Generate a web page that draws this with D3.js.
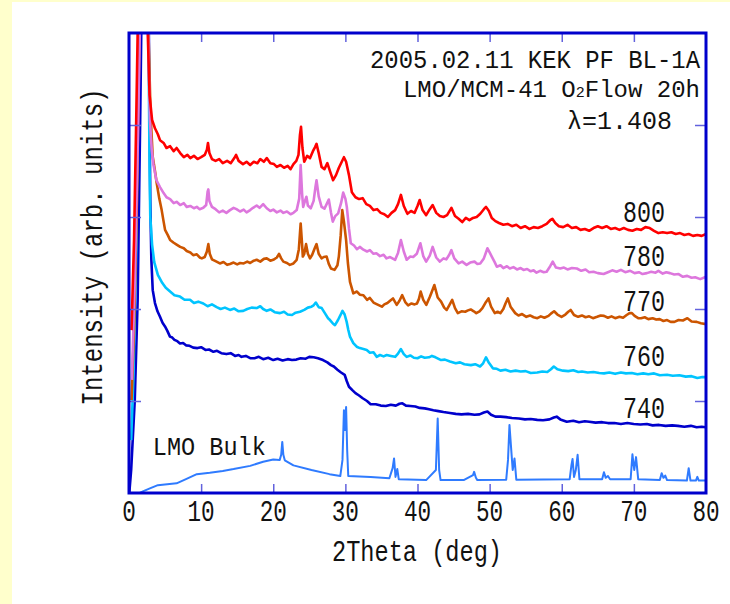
<!DOCTYPE html>
<html>
<head>
<meta charset="utf-8">
<script src="https://cdn.jsdelivr.net/npm/d3@7"></script>
<style>
  body { margin: 0; background: #ffffcc; }
  text { font-family: "Liberation Mono", "DejaVu Sans Mono", monospace; fill: #111; }
</style>
</head>
<body>
<div id="chart"></div>
<script>
var svgWidth = 730;
var svgHeight = 604;

var margin = { top: 33, right: 24, bottom: 111, left: 129 };
var width = svgWidth - margin.left - margin.right;
var height = svgHeight - margin.top - margin.bottom;

// tick values and labels
var xTickValues = [10, 20, 30, 40, 50, 60, 70];
var xTickLabels = [0, 10, 20, 30, 40, 50, 60, 70, 80];
var yTickValues = [20, 40, 60, 80];

// series names (annealing temperature) and their label baselines (data units)
var seriesNames = ["800", "780", "770", "760", "740"];
var seriesColors = ["#ff0000", "#dd77dd", "#cc5500", "#00c4ff", "#0000cc"];
var labelLevels = [59.0, 49.3, 39.5, 27.6, 16.3];

// 2theta (deg), intensity (arb.)
var s800 = [[0.35,35.4],[0.7,55.0],[1.0,81.1],[1.2,100],[1.35,120],[2.45,120],[2.6,100],[2.85,86.5],[3.2,81.1],[3.6,79.3],[4.0,78.0],[4.3,76.7],[4.8,76.1],[5.2,75.0],[5.7,75.4],[6.2,74.3],[6.6,75.0],[7.1,73.9],[7.6,73.0],[8.1,73.5],[8.5,72.8],[9.0,73.3],[9.5,72.6],[10.0,73.0],[10.5,73.5],[10.8,74.6],[10.95,76.1],[11.15,73.9],[11.5,72.6],[12.0,72.2],[12.5,72.6],[13.0,71.7],[13.6,72.2],[14.1,71.7],[14.6,72.8],[14.85,73.5],[15.2,72.2],[15.8,71.5],[16.3,72.0],[16.8,71.3],[17.3,72.0],[17.8,71.7],[18.2,72.6],[18.7,72.0],[19.1,72.8],[19.6,71.7],[20.1,71.5],[20.5,70.9],[21.0,71.3],[21.5,70.7],[22.0,71.1],[22.4,70.4],[22.8,71.5],[23.2,72.2],[23.5,73.5],[23.7,77.8],[23.85,79.6],[24.05,75.0],[24.3,72.0],[24.7,73.3],[25.1,72.8],[25.5,74.3],[25.8,75.2],[26.0,75.9],[26.3,73.9],[26.7,70.9],[27.1,70.4],[27.5,71.7],[27.9,69.8],[28.3,68.0],[28.7,69.1],[29.1,70.7],[29.5,72.0],[29.8,73.0],[30.1,72.0],[30.5,69.1],[30.9,65.4],[31.4,64.3],[31.9,63.9],[32.4,64.1],[32.9,62.8],[33.4,62.4],[33.9,61.5],[34.4,61.7],[34.9,60.9],[35.4,60.6],[35.9,60.0],[36.4,60.9],[36.9,61.5],[37.3,62.8],[37.7,64.8],[38.1,62.4],[38.6,60.7],[39.1,61.3],[39.6,60.9],[40.0,62.4],[40.3,63.7],[40.7,61.5],[41.2,60.4],[41.7,61.7],[42.1,62.6],[42.6,60.9],[43.1,60.2],[43.6,60.0],[44.1,60.4],[44.7,62.0],[45.2,60.2],[45.7,59.6],[46.2,58.9],[46.7,59.8],[47.2,59.3],[47.7,59.8],[48.2,60.0],[48.7,60.7],[49.2,61.7],[49.5,62.2],[49.9,61.3],[50.3,59.8],[50.8,59.1],[51.3,58.7],[51.9,58.3],[52.5,58.5],[53.1,58.0],[53.7,58.3],[54.3,57.6],[54.9,58.0],[55.5,57.4],[56.1,57.8],[56.7,57.6],[57.3,58.0],[57.9,58.5],[58.4,59.3],[58.7,59.6],[59.1,58.7],[59.6,58.0],[60.2,57.8],[60.8,58.3],[61.4,57.6],[62.0,57.8],[62.6,57.2],[63.2,57.4],[63.8,57.0],[64.4,57.6],[65.0,58.0],[65.6,57.6],[66.2,58.0],[66.8,57.4],[67.4,57.6],[68.0,57.2],[68.6,57.6],[69.2,57.2],[69.8,57.0],[70.4,57.4],[71.0,57.2],[71.6,57.8],[72.2,57.6],[72.8,57.0],[73.4,56.5],[74.0,56.7],[74.6,56.5],[75.2,56.7],[75.8,56.3],[76.4,56.5],[77.0,56.1],[77.6,56.3],[78.2,55.9],[78.8,56.1],[79.4,55.9],[80.0,56.3]];

var s780 = [[0.4,24.6],[0.8,46.3],[1.2,74.6],[1.5,100],[1.6,120],[2.45,120],[2.65,100],[2.9,81.1],[3.15,74.6],[3.4,71.3],[3.8,68.0],[4.3,66.5],[4.8,65.2],[5.2,64.3],[5.7,63.9],[6.2,63.0],[6.6,63.3],[7.1,62.6],[7.6,63.0],[8.0,62.2],[8.5,62.4],[9.0,61.9],[9.4,62.2],[9.8,61.7],[10.3,62.0],[10.7,62.6],[10.9,65.5],[11.0,66.0],[11.15,63.5],[11.5,62.2],[12.0,61.7],[12.5,61.0],[13.0,61.4],[13.5,60.9],[14.0,61.5],[14.5,62.0],[14.9,61.7],[15.4,61.2],[15.9,61.6],[16.3,61.0],[16.8,61.5],[17.2,62.0],[17.7,62.5],[18.1,62.0],[18.6,62.8],[19.1,61.9],[19.6,61.3],[20.0,61.6],[20.5,61.0],[21.0,61.4],[21.4,60.9],[21.9,61.2],[22.4,60.6],[22.8,60.9],[23.25,61.5],[23.6,64.0],[23.8,71.3],[24.0,65.0],[24.15,62.2],[24.4,63.5],[24.6,64.4],[24.8,62.5],[25.2,61.9],[25.6,63.5],[25.85,66.5],[26.0,68.0],[26.3,64.5],[26.7,62.2],[27.1,61.8],[27.4,62.8],[27.7,63.8],[28.0,61.0],[28.25,59.0],[28.6,60.2],[29.0,60.8],[29.4,63.0],[29.7,65.3],[30.0,64.0],[30.2,62.2],[30.5,57.5],[30.75,54.3],[31.2,53.8],[31.6,53.0],[32.0,53.5],[32.5,52.9],[33.0,52.5],[33.4,52.8],[33.9,52.0],[34.3,52.1],[34.8,51.5],[35.3,51.8],[35.7,51.0],[36.2,51.3],[36.9,50.7],[37.3,52.2],[37.7,55.0],[38.1,52.5],[38.5,50.7],[39.0,51.4],[39.4,51.3],[39.9,52.0],[40.4,54.3],[40.8,51.5],[41.2,50.3],[41.7,51.6],[42.1,53.5],[42.6,51.2],[43.1,50.3],[43.6,51.0],[44.0,50.8],[44.4,51.8],[44.7,52.8],[45.1,51.0],[45.7,49.9],[46.2,50.3],[46.8,49.6],[47.3,50.1],[47.9,50.3],[48.3,49.8],[48.7,49.9],[49.2,51.0],[49.7,53.2],[50.0,52.3],[50.3,51.4],[50.7,50.2],[51.0,49.2],[51.5,49.5],[51.9,48.9],[52.4,49.3],[52.8,48.8],[53.3,49.1],[53.8,48.6],[54.3,48.9],[54.7,48.5],[55.2,48.7],[55.7,48.2],[56.1,48.4],[56.5,47.9],[57.0,48.3],[57.5,48.0],[57.9,48.1],[58.4,49.3],[58.75,50.3],[59.2,49.0],[59.8,48.8],[60.3,49.0],[60.8,48.6],[61.4,48.9],[62.1,48.8],[62.7,48.3],[63.3,48.6],[63.8,48.0],[64.4,48.1],[65.0,47.8],[65.8,47.6],[66.4,48.0],[67.0,48.4],[67.6,48.1],[68.2,48.5],[68.8,48.0],[69.5,48.3],[70.1,47.8],[70.7,48.0],[71.2,47.6],[71.8,47.8],[72.4,48.1],[73.0,47.9],[73.4,48.3],[74.0,47.7],[74.5,48.0],[75.0,47.8],[75.6,47.5],[76.2,47.6],[76.8,47.0],[77.4,47.2],[78.0,46.8],[78.5,46.9],[79.2,46.5],[80.0,47.0]];

var s770 = [[0.35,20.2],[0.7,35.4],[1.1,63.7],[1.45,100],[1.55,120],[2.5,120],[2.7,100],[3.0,82.0],[3.29,73.1],[3.6,70.0],[3.84,67.4],[4.2,64.0],[4.53,61.5],[4.8,59.0],[5.0,57.2],[5.4,56.0],[5.7,55.0],[6.2,54.4],[6.6,54.0],[7.1,53.5],[7.6,53.2],[8.0,52.6],[8.5,52.3],[8.9,51.7],[9.4,51.9],[9.8,51.2],[10.1,51.0],[10.5,51.3],[10.8,52.5],[11.0,54.1],[11.2,52.0],[11.5,50.8],[12.0,50.4],[12.6,49.9],[13.1,50.2],[13.6,49.6],[14.0,49.8],[14.5,50.1],[15.0,49.7],[15.4,50.0],[15.9,49.9],[16.4,50.3],[16.8,50.0],[17.3,50.5],[17.7,50.7],[18.2,50.3],[18.7,50.9],[19.1,51.0],[19.6,50.5],[20.0,50.7],[20.5,51.2],[20.8,52.0],[21.1,51.0],[21.4,50.3],[21.9,50.0],[22.3,49.6],[22.8,49.9],[23.25,50.7],[23.55,53.0],[23.8,58.6],[24.0,54.0],[24.1,51.4],[24.3,52.0],[24.55,54.1],[24.8,52.0],[25.1,51.0],[25.4,51.8],[25.75,53.2],[26.0,54.1],[26.3,52.0],[26.7,51.0],[27.0,51.3],[27.4,51.4],[27.7,49.8],[28.0,48.8],[28.5,48.5],[28.9,49.5],[29.1,51.5],[29.35,56.0],[29.57,61.5],[29.8,59.0],[30.1,55.0],[30.35,50.0],[30.64,45.9],[31.1,43.4],[31.6,43.8],[32.0,43.1],[32.5,43.0],[33.0,42.0],[33.4,42.4],[33.9,41.4],[34.4,41.0],[35.06,40.5],[35.4,41.0],[35.83,41.3],[36.2,41.8],[36.6,42.3],[36.9,41.5],[37.12,40.9],[37.5,41.8],[37.88,43.0],[38.3,41.5],[38.7,40.8],[39.17,41.2],[39.6,41.0],[39.93,41.2],[40.2,42.2],[40.44,43.8],[40.8,42.0],[41.22,40.9],[41.73,42.7],[42.0,43.8],[42.34,45.2],[42.8,42.5],[43.27,41.6],[43.7,40.3],[44.05,39.8],[44.4,40.8],[44.81,42.0],[45.2,40.2],[45.59,39.1],[46.1,39.5],[46.61,39.4],[47.0,39.7],[47.38,39.9],[47.8,39.5],[48.15,39.1],[48.6,39.5],[49.0,40.2],[49.4,41.3],[49.84,42.3],[50.2,40.5],[50.72,39.1],[51.1,39.4],[51.49,39.1],[51.9,40.0],[52.2,41.2],[52.52,42.3],[52.9,40.5],[53.55,39.1],[54.0,38.6],[54.5,38.9],[55.09,38.3],[55.6,38.6],[56.1,38.2],[56.62,38.0],[57.1,38.4],[57.6,38.1],[58.16,38.5],[58.5,39.0],[58.94,39.5],[59.4,38.8],[59.97,38.3],[60.5,38.8],[60.9,39.4],[61.24,39.8],[61.7,38.7],[62.27,38.3],[62.8,38.6],[63.3,38.2],[63.8,38.4],[64.33,38.0],[64.9,38.3],[65.4,38.6],[65.86,38.5],[66.4,38.1],[66.9,38.4],[67.41,38.0],[68.0,38.3],[68.5,38.1],[69.0,38.7],[69.4,39.1],[69.73,39.1],[70.1,38.5],[70.6,38.0],[71.0,38.0],[71.5,38.2],[72.0,37.8],[72.6,38.0],[73.1,37.7],[73.57,37.8],[74.1,37.4],[74.6,37.6],[75.1,37.2],[75.62,37.2],[76.2,37.6],[76.8,37.5],[77.42,38.0],[78.0,37.3],[78.71,37.2],[79.3,36.9],[80.0,36.7]];

var s760 = [[0.3,11.5],[0.6,24.6],[1.0,52.8],[1.35,100],[1.45,120],[2.5,120],[2.7,100],[2.85,70.9],[2.95,60.1],[3.2,54.0],[3.5,50.2],[4.0,47.4],[4.6,45.7],[5.1,44.6],[5.7,43.8],[6.3,43.0],[7.07,42.7],[7.7,42.0],[8.46,42.0],[9.0,41.3],[9.6,41.6],[10.3,41.2],[10.9,40.6],[11.5,41.0],[12.16,40.4],[12.7,40.0],[13.3,40.3],[14.0,39.8],[14.6,40.1],[15.2,39.5],[15.85,39.6],[16.4,40.0],[17.0,40.3],[17.71,40.2],[18.2,40.6],[18.6,40.0],[19.09,39.6],[19.6,39.9],[20.2,39.3],[20.94,39.1],[21.5,39.4],[22.0,38.8],[22.6,38.7],[23.1,39.2],[23.71,39.4],[24.3,39.8],[24.8,40.3],[25.3,40.5],[25.6,40.8],[25.9,41.4],[26.3,40.4],[26.72,40.2],[27.2,39.0],[27.6,38.0],[27.87,37.6],[28.3,36.8],[28.56,36.5],[28.98,37.6],[29.3,38.6],[29.6,39.6],[29.9,38.8],[30.18,37.2],[30.4,35.5],[30.64,34.0],[31.1,32.6],[31.57,31.8],[32.0,31.5],[32.5,31.3],[32.96,31.1],[33.4,30.5],[33.9,30.6],[34.34,29.6],[34.8,30.0],[35.3,29.7],[35.73,30.0],[36.3,29.8],[36.9,29.6],[37.3,30.3],[37.7,31.3],[38.1,30.2],[38.5,29.6],[39.0,29.9],[39.5,29.4],[40.0,29.3],[40.5,29.7],[41.0,29.4],[41.6,29.5],[42.0,29.8],[42.5,29.5],[43.27,28.9],[43.8,29.0],[44.5,28.6],[45.3,28.2],[45.9,28.4],[46.5,28.0],[47.4,27.8],[48.0,28.0],[48.67,27.5],[49.1,28.2],[49.5,29.5],[49.9,28.3],[50.45,27.1],[51.0,27.0],[51.5,26.6],[52.2,26.8],[52.9,26.4],[53.6,26.6],[54.3,26.4],[55.0,26.5],[55.7,26.1],[56.6,26.2],[57.3,26.4],[58.0,26.3],[58.5,26.9],[58.9,27.5],[59.4,26.9],[60.17,26.6],[60.9,26.5],[61.6,26.7],[62.3,26.3],[62.8,26.4],[63.6,26.2],[64.4,26.3],[65.2,26.1],[65.86,26.0],[66.6,26.2],[67.4,25.9],[68.2,26.2],[68.9,26.0],[69.7,26.1],[70.5,25.8],[71.3,26.0],[72.0,25.8],[72.8,26.0],[73.6,25.6],[74.6,25.7],[75.4,25.5],[76.3,25.6],[77.2,25.3],[78.0,25.4],[78.8,25.0],[79.5,25.2],[80.0,25.2]];

var s740 = [[0.05,0.2],[0.3,5.0],[0.8,20.2],[1.2,42.0],[1.55,81.1],[1.7,100],[1.8,120],[2.55,120],[2.75,100],[2.95,63.7],[3.1,50.7],[3.29,44.1],[3.6,41.3],[3.95,39.5],[4.3,38.3],[4.65,37.0],[4.99,36.2],[5.3,35.3],[5.68,34.0],[6.0,33.8],[6.3,33.3],[6.7,33.0],[7.07,32.5],[7.5,32.6],[7.9,32.1],[8.4,32.0],[8.9,31.6],[9.5,31.5],[10.0,31.7],[10.6,31.1],[11.1,31.2],[11.7,30.7],[12.2,30.9],[12.8,30.4],[13.5,30.2],[14.1,30.4],[14.7,29.8],[15.2,30.0],[15.6,29.6],[16.2,29.8],[16.8,29.3],[17.4,29.3],[18.0,29.6],[18.6,29.1],[19.3,29.4],[20.0,28.9],[20.6,29.2],[21.3,28.8],[22.0,29.1],[22.6,28.9],[23.2,29.0],[23.8,29.3],[24.5,29.2],[25.0,29.6],[25.6,29.5],[26.2,29.3],[26.9,28.9],[27.5,28.4],[28.0,27.8],[28.4,27.5],[28.9,26.8],[29.4,26.2],[29.9,25.7],[30.2,24.3],[30.5,23.1],[31.0,22.3],[31.4,21.7],[31.9,21.2],[32.4,20.6],[33.0,20.0],[33.5,19.3],[34.2,19.3],[34.9,19.0],[35.6,18.9],[36.3,19.2],[37.0,19.0],[37.5,19.4],[37.9,19.5],[38.4,19.0],[39.0,18.9],[39.7,18.8],[40.3,18.5],[41.0,18.4],[41.6,18.2],[42.2,18.0],[42.9,17.8],[43.6,17.6],[44.5,17.4],[45.3,17.2],[46.1,17.1],[47.0,17.2],[47.9,17.0],[48.6,17.1],[49.2,17.5],[49.7,17.7],[50.2,17.0],[50.8,16.6],[51.5,16.6],[52.3,16.5],[53.1,16.3],[54.06,16.2],[54.9,16.0],[55.7,16.1],[56.6,15.9],[57.4,15.8],[58.3,16.0],[58.9,16.4],[59.3,16.6],[59.8,16.0],[60.7,15.5],[61.6,15.7],[62.4,15.4],[63.2,15.6],[63.8,15.5],[64.7,15.3],[65.6,15.4],[66.4,15.2],[67.3,15.2],[68.2,15.0],[69.1,15.2],[69.98,15.0],[70.9,14.9],[71.8,15.0],[72.6,14.7],[73.5,14.8],[74.4,14.6],[75.3,14.7],[76.1,14.6],[77.0,14.4],[77.9,14.6],[78.7,14.3],[79.4,14.4],[80.0,14.3]];

var bulk = [[1.5,0.0],[2.0,0.4],[2.9,1.0],[4.0,1.7],[6.6,2.1],[7.9,3.0],[9.4,4.1],[11.2,4.4],[13.0,4.8],[14.5,5.2],[16.8,5.9],[18.6,6.8],[20.0,7.3],[20.9,7.2],[21.1,8.3],[21.25,11.1],[21.4,8.3],[21.6,7.1],[22.8,6.0],[25.3,5.0],[27.8,4.1],[29.3,3.7],[29.6,7.2],[29.8,18.0],[29.95,13.7],[30.1,18.7],[30.25,9.3],[30.4,3.7],[33.5,3.5],[36.1,3.2],[36.55,5.4],[36.75,7.5],[36.95,3.5],[37.2,5.2],[37.4,3.0],[41.2,2.8],[42.55,5.0],[42.8,16.2],[43.0,5.0],[43.2,2.8],[46.4,2.8],[47.7,3.9],[47.85,4.6],[48.1,3.3],[48.3,2.8],[52.3,2.9],[52.55,7.2],[52.75,14.8],[52.95,10.4],[53.2,5.0],[53.45,7.5],[53.7,2.9],[61.1,3.0],[61.35,6.1],[61.5,7.4],[61.7,3.5],[61.95,5.0],[62.2,8.3],[62.45,3.0],[65.6,3.0],[65.85,4.5],[66.1,3.3],[66.4,3.7],[66.7,3.0],[69.55,3.0],[69.8,8.4],[70.05,5.0],[70.3,7.8],[70.6,3.0],[73.6,2.8],[73.85,4.3],[74.1,3.3],[74.35,3.8],[74.6,2.8],[77.35,2.7],[77.6,5.4],[77.85,2.7],[78.6,2.7],[78.8,3.5],[79.0,2.7],[80.0,2.7]];

var seriesData = [s800, s780, s770, s760, s740];

var svg = d3.select("#chart")
  .append("svg")
  .attr("width", svgWidth)
  .attr("height", svgHeight)
  .style("display", "block");

// pale yellow page with white panel
svg.append("rect").attr("width", svgWidth).attr("height", svgHeight).attr("fill", "#ffffcc");
svg.append("rect").attr("x", 12).attr("y", 2).attr("width", svgWidth - 12).attr("height", svgHeight - 2).attr("fill", "#ffffff");

var chartGroup = svg.append("g")
  .attr("transform", `translate(${margin.left}, ${margin.top})`);

var xLinearScale = d3.scaleLinear().domain([0, 80]).range([0, width]);
var yLinearScale = d3.scaleLinear().domain([0, 100]).range([height, 0]);

chartGroup.append("clipPath").attr("id", "plotClip")
  .append("rect").attr("width", width).attr("height", height);

var line = d3.line()
  .x(d => xLinearScale(d[0]))
  .y(d => yLinearScale(d[1]));

var lines = chartGroup.append("g").attr("clip-path", "url(#plotClip)");

lines.append("path")
  .datum(bulk)
  .attr("d", line)
  .attr("fill", "none")
  .attr("stroke", "#2f7bff")
  .attr("stroke-width", 2)
  .attr("stroke-linejoin", "round");

// draw bottom series first so upper ones sit on top
for (var i = seriesData.length - 1; i >= 0; i--) {
  lines.append("path")
    .datum(seriesData[i])
    .attr("d", line)
    .attr("fill", "none")
    .attr("stroke", seriesColors[i])
    .attr("stroke-width", 2.6)
    .attr("stroke-linejoin", "round");
}

// ticks (inward, all four sides)
var tickColor = "#6262dd";
function styleTicks(g) {
  g.select(".domain").remove();
  g.selectAll("line").attr("stroke", tickColor).attr("stroke-width", 1.5);
  g.selectAll("text").remove();
}

chartGroup.append("g")
  .attr("transform", `translate(0, ${height})`)
  .call(d3.axisBottom(xLinearScale).tickValues(xTickValues).tickSize(-9))
  .call(styleTicks);

chartGroup.append("g")
  .call(d3.axisTop(xLinearScale).tickValues(xTickValues).tickSize(-9))
  .call(styleTicks);

chartGroup.append("g")
  .call(d3.axisLeft(yLinearScale).tickValues(yTickValues).tickSize(-12))
  .call(styleTicks);

chartGroup.append("g")
  .attr("transform", `translate(${width}, 0)`)
  .call(d3.axisRight(yLinearScale).tickValues(yTickValues).tickSize(-11))
  .call(styleTicks);

// frame
chartGroup.append("rect")
  .attr("width", width)
  .attr("height", height)
  .attr("fill", "none")
  .attr("stroke", "#0000cc")
  .attr("stroke-width", 3);

// x tick labels
chartGroup.selectAll(".xlab")
  .data(xTickLabels)
  .enter()
  .append("text")
  .attr("class", "xlab")
  .attr("x", d => xLinearScale(d))
  .attr("y", height + 28)
  .attr("text-anchor", "middle")
  .attr("font-size", 29)
  .attr("textLength", d => String(d).length * 13.6)
  .attr("lengthAdjust", "spacingAndGlyphs")
  .text(d => d);

// series labels
chartGroup.selectAll(".slab")
  .data(seriesNames)
  .enter()
  .append("text")
  .attr("class", "slab")
  .attr("x", xLinearScale(68.5))
  .attr("y", (d, i) => yLinearScale(labelLevels[i]))
  .attr("font-size", 29)
  .attr("textLength", 42)
  .attr("lengthAdjust", "spacingAndGlyphs")
  .text(d => d);

chartGroup.append("text")
  .attr("x", xLinearScale(3.3))
  .attr("y", yLinearScale(8.3))
  .attr("font-size", 25)
  .attr("textLength", 113)
  .attr("lengthAdjust", "spacingAndGlyphs")
  .text("LMO Bulk");

// title block
var titleGroup = svg.append("g").attr("font-size", 26);
titleGroup.append("text")
  .attr("x", 700).attr("y", 68)
  .attr("text-anchor", "end")
  .attr("textLength", 330)
  .attr("lengthAdjust", "spacingAndGlyphs")
  .text("2005.02.11 KEK PF BL-1A");

var t2 = titleGroup.append("text")
  .attr("x", 700).attr("y", 97)
  .attr("text-anchor", "end")
  .attr("font-size", 24);
t2.append("tspan").text("LMO/MCM-41 O");
t2.append("tspan").attr("font-size", 15).text("2");
t2.append("tspan").text("Flow 20h");

titleGroup.append("text")
  .attr("x", 672).attr("y", 129)
  .attr("text-anchor", "end")
  .attr("textLength", 105)
  .attr("lengthAdjust", "spacingAndGlyphs")
  .text("λ=1.408");

// axis titles
svg.append("text")
  .attr("x", 417)
  .attr("y", 561)
  .attr("text-anchor", "middle")
  .attr("font-size", 30)
  .attr("textLength", 170)
  .attr("lengthAdjust", "spacingAndGlyphs")
  .text("2Theta (deg)");

svg.append("text")
  .attr("transform", "translate(102, 247) rotate(-90)")
  .attr("text-anchor", "middle")
  .attr("font-size", 30)
  .attr("textLength", 317)
  .attr("lengthAdjust", "spacingAndGlyphs")
  .text("Intensity (arb. units)");
</script>
</body>
</html>
